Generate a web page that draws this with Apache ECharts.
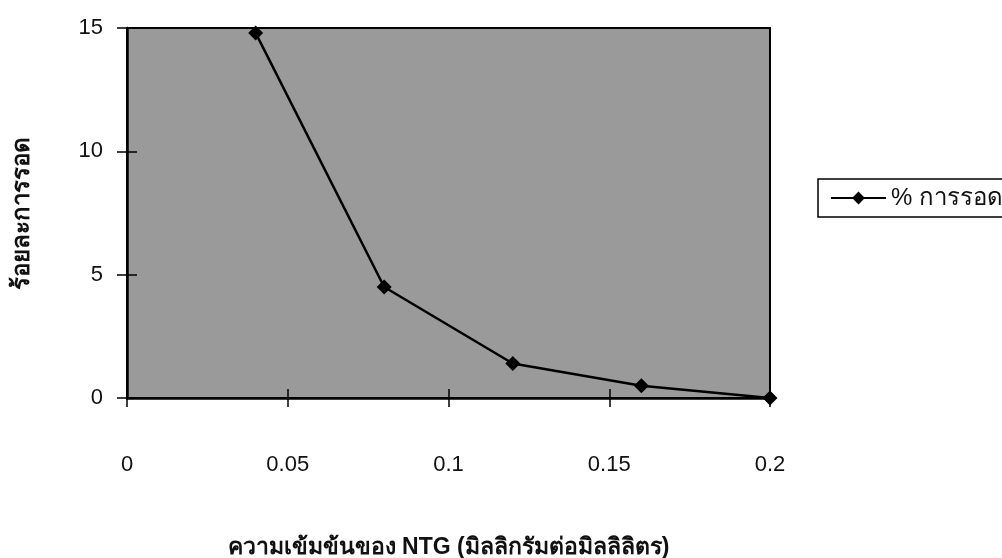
<!DOCTYPE html>
<html>
<head>
<meta charset="utf-8">
<script src="https://cdn.jsdelivr.net/npm/echarts@6/dist/echarts.min.js"></script>
<style>html,body{margin:0;padding:0;background:#fff}#c{width:1002px;height:558px}</style>
</head>
<body>
<div id="c"></div>
<script>
var xValues = [0.04, 0.08, 0.12, 0.16, 0.2];
var survival = [14.8, 4.5, 1.4, 0.5, 0];
var seriesName = '% การรอด';
var xTitle = 'ความเข้มข้นของ NTG (มิลลิกรัมต่อมิลลิลิตร)';
var yTitle = 'ร้อยละการรอด';

var font = 'Arial, "Liberation Sans", "Noto Sans", sans-serif';
var chart = echarts.init(document.getElementById('c'));
chart.setOption({
  backgroundColor: '#ffffff',
  animation: false,
  textStyle: {fontFamily: font},
  grid: {left: 127, right: 232, top: 28, bottom: 160, show: true, backgroundColor: '#9a9a9a', borderColor: '#000', borderWidth: 2, containLabel: false, outerBoundsMode: 'none'},
  legend: {
    left: 818, top: 179, orient: 'vertical',
    backgroundColor: '#fff', borderColor: '#000', borderWidth: 1.5, borderRadius: 0,
    padding: [7, 40, 7, 12], itemWidth: 55, itemHeight: 16, itemGap: 4,
    textStyle: {fontSize: 24, color: '#111', fontFamily: font},
    data: [seriesName]
  },
  xAxis: [{
    type: 'value', min: 0, max: 0.2, interval: 0.05,
    name: xTitle, nameLocation: 'middle', nameGap: 138,
    nameTextStyle: {fontSize: 23, fontWeight: 'bold', color: '#111', fontFamily: font},
    axisLine: {show: true, onZero: false, lineStyle: {color: '#000', width: 2.5}},
    axisTick: {show: true, length: 9, lineStyle: {color: '#000', width: 1.5}},
    axisLabel: {margin: 56, fontSize: 22, color: '#111', fontFamily: font},
    splitLine: {show: false}
  }, {
    type: 'value', min: 0, max: 0.2, interval: 0.05, position: 'bottom',
    axisLine: {show: false, onZero: false},
    axisTick: {show: true, inside: true, length: 9, lineStyle: {color: '#000', width: 1.5}},
    axisLabel: {show: false}, splitLine: {show: false}
  }],
  yAxis: [{
    type: 'value', min: 0, max: 15, interval: 5,
    name: yTitle, nameLocation: 'middle', nameGap: 93, nameRotate: 90,
    nameTextStyle: {fontSize: 24, fontWeight: 'bold', color: '#111', fontFamily: font},
    axisLine: {show: true, lineStyle: {color: '#000', width: 2.5}},
    axisTick: {show: true, length: 10, lineStyle: {color: '#000', width: 1.5}},
    axisLabel: {margin: 24, fontSize: 22, color: '#111', fontFamily: font},
    splitLine: {show: false}
  }, {
    type: 'value', min: 0, max: 15, interval: 5, position: 'left',
    axisLine: {show: false},
    axisTick: {show: true, inside: true, length: 10, lineStyle: {color: '#000', width: 1.5}},
    axisLabel: {show: false}, splitLine: {show: false}
  }],
  series: [{
    name: seriesName, type: 'line',
    data: xValues.map(function (x, i) { return [x, survival[i]]; }),
    symbol: 'diamond', symbolSize: 15,
    lineStyle: {color: '#000', width: 2.5},
    itemStyle: {color: '#000'},
    clip: false, z: 5
  }]
});
</script>
</body>
</html>
